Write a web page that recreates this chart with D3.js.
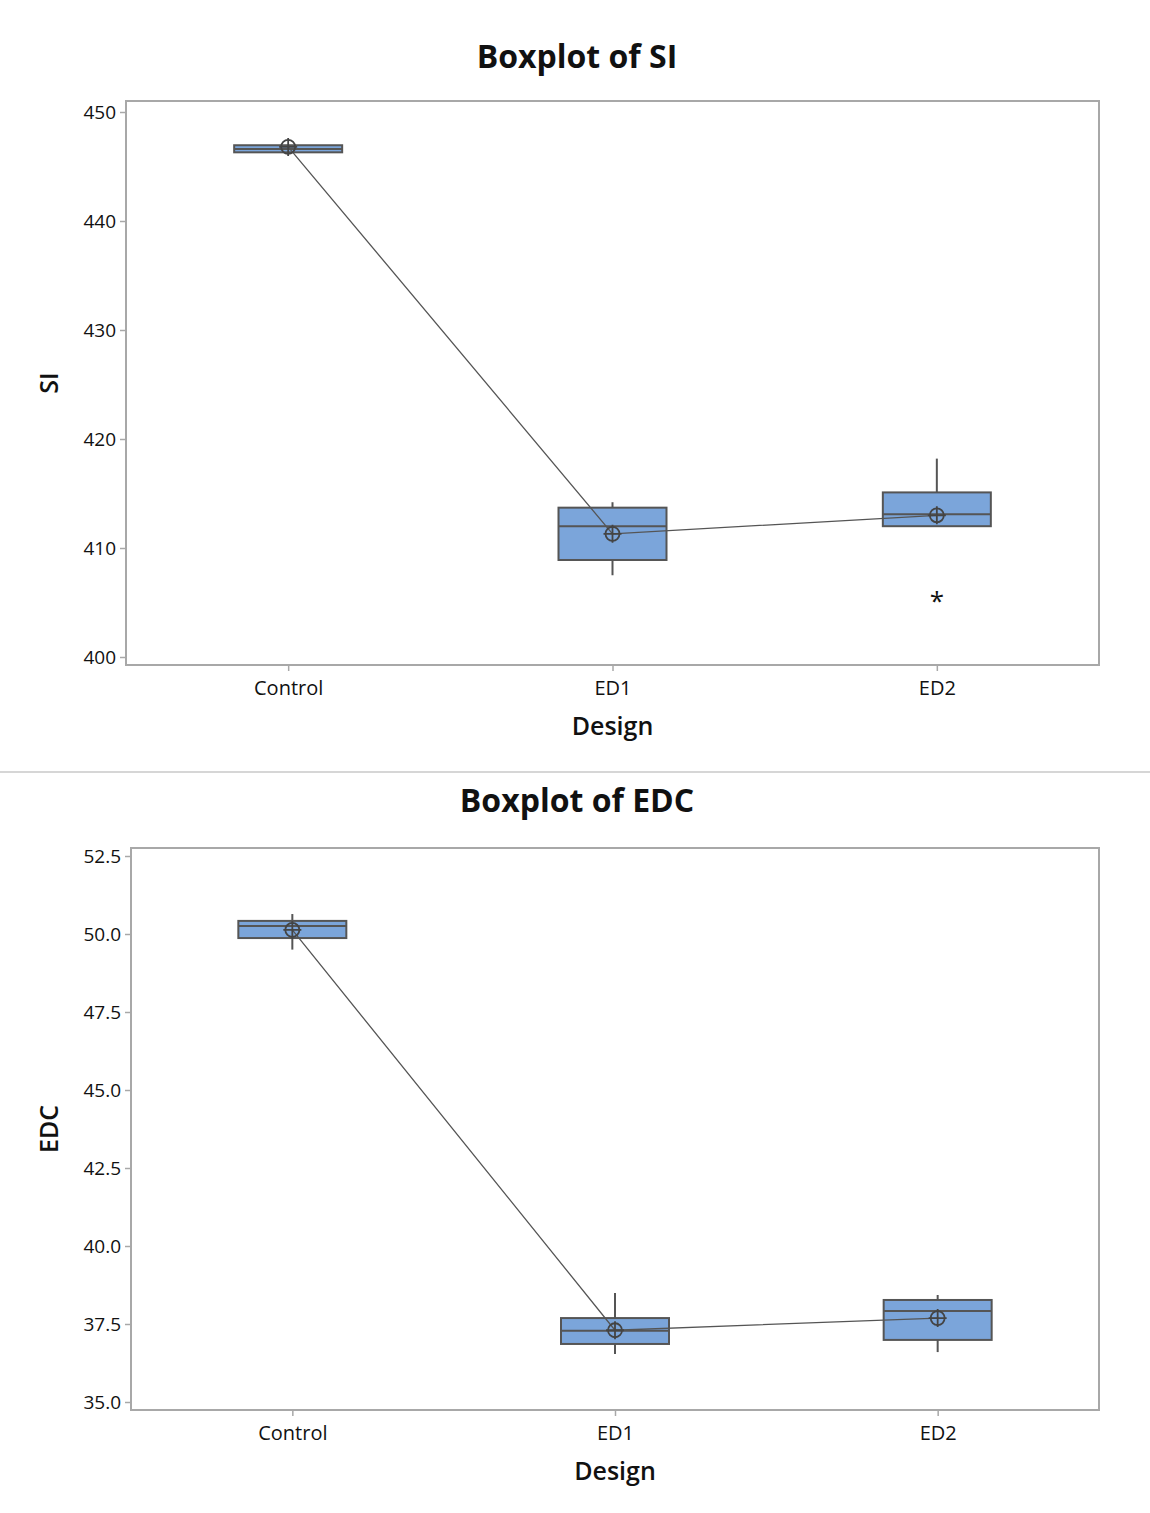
<!DOCTYPE html>
<html>
<head>
<meta charset="utf-8">
<script src="https://cdn.jsdelivr.net/npm/d3@7"></script>
<style>
  body { margin: 0; background: #fff; }
  svg { display: block; }
  text { font-family: "Open Sans", "Noto Sans", sans-serif; fill: #111; }
</style>
</head>
<body>
<svg id="chart" width="1150" height="1513"></svg>
<script>
// Design groups shared by both boxplots
const categories = ["Control", "ED1", "ED2"];

// SI summary per group: [whiskerLow, Q1, median, Q3, whiskerHigh]
const siStats = [
  [446.3, 446.3, 446.6, 446.95, 446.95],
  [407.5, 408.9, 412.0, 413.7, 414.2],
  [412.0, 412.0, 413.1, 415.1, 418.2]
];
const siMeans = [446.8, 411.3, 413.0];
const siOutliers = [[2, 405.3]];
const siTicks = [400, 410, 420, 430, 440, 450];

// EDC summary per group
const edcStats = [
  [49.5, 49.87, 50.26, 50.42, 50.64],
  [36.54, 36.86, 37.28, 37.69, 38.49],
  [36.6, 36.99, 37.92, 38.27, 38.43]
];
const edcMeans = [50.13, 37.3, 37.69];
const edcOutliers = [];
const edcTicks = [35.0, 37.5, 40.0, 42.5, 45.0, 47.5, 50.0, 52.5];

const svg = d3.select("#chart");

function drawPanel(opt) {
  const g = svg.append("g");
  const x = d3.scalePoint().domain(categories).range([opt.left, opt.right]).padding(0.5);
  const y = d3.scaleLinear().domain(opt.domain).range([opt.y0, opt.y1]);

  // title
  g.append("text").attr("x", opt.titleX).attr("y", opt.titleY)
    .attr("text-anchor", "middle").attr("font-size", 32).attr("font-weight", 700)
    .text(opt.title);

  // frame
  g.append("rect").attr("x", opt.left).attr("y", opt.top)
    .attr("width", opt.right - opt.left).attr("height", opt.bottom - opt.top)
    .attr("fill", "none").attr("stroke", "#a8a8a8").attr("stroke-width", 2);

  // y axis
  const ya = g.append("g").attr("transform", `translate(${opt.left},0)`)
    .call(d3.axisLeft(y).tickValues(opt.ticks).tickSize(6).tickPadding(4)
      .tickFormat(opt.fmt));
  ya.select(".domain").remove();
  ya.selectAll("line").attr("stroke", "#a8a8a8").attr("stroke-width", 1.5);
  ya.selectAll("text").attr("font-size", 19).attr("fill", "#000")
    .attr("font-family", '"Open Sans", sans-serif');

  // x axis
  const xa = g.append("g").attr("transform", `translate(0,${opt.bottom})`)
    .call(d3.axisBottom(x).tickSize(6).tickPadding(10));
  xa.select(".domain").remove();
  xa.selectAll("line").attr("stroke", "#a8a8a8").attr("stroke-width", 1.5);
  xa.selectAll("text").attr("font-size", 20).attr("fill", "#000")
    .attr("font-family", '"Open Sans", sans-serif');

  // axis titles
  g.append("text").attr("x", (opt.left + opt.right) / 2).attr("y", opt.bottom + 70)
    .attr("text-anchor", "middle").attr("font-size", 25).attr("font-weight", 600)
    .text("Design");
  g.append("text")
    .attr("transform", `translate(${opt.yLabelX},${(opt.top + opt.bottom) / 2}) rotate(-90)`)
    .attr("text-anchor", "middle").attr("font-size", 25).attr("font-weight", 600)
    .text(opt.yLabel);

  const bw = 108;
  const col = "#555";
  const boxes = g.append("g").selectAll("g").data(opt.stats).join("g")
    .attr("transform", (d, i) => `translate(${x(categories[i])},0)`);
  // whiskers
  boxes.append("line").attr("x1", 0).attr("x2", 0)
    .attr("y1", d => y(d[4])).attr("y2", d => y(d[3]))
    .attr("stroke", col).attr("stroke-width", 2);
  boxes.append("line").attr("x1", 0).attr("x2", 0)
    .attr("y1", d => y(d[1])).attr("y2", d => y(d[0]))
    .attr("stroke", col).attr("stroke-width", 2);
  // box
  boxes.append("rect").attr("x", -bw / 2).attr("width", bw)
    .attr("y", d => y(d[3])).attr("height", d => Math.max(1, y(d[1]) - y(d[3])))
    .attr("fill", "#7ba5da").attr("stroke", col).attr("stroke-width", 2);
  // median
  boxes.append("line").attr("x1", -bw / 2).attr("x2", bw / 2)
    .attr("y1", d => y(d[2])).attr("y2", d => y(d[2]))
    .attr("stroke", col).attr("stroke-width", 2);

  // mean connect line
  const line = d3.line().x((d, i) => x(categories[i])).y(d => y(d));
  g.append("path").datum(opt.means).attr("d", line)
    .attr("fill", "none").attr("stroke", "#555").attr("stroke-width", 1.3);

  // mean symbols: circle with cross
  const ms = g.append("g").selectAll("g").data(opt.means).join("g")
    .attr("transform", (d, i) => `translate(${x(categories[i])},${y(d)})`);
  ms.append("circle").attr("r", 7).attr("fill", "none")
    .attr("stroke", "#444").attr("stroke-width", 1.8);
  ms.append("path").attr("d", "M-9,0H9M0,-9V9")
    .attr("stroke", "#444").attr("stroke-width", 1.8);

  // outliers
  g.append("g").selectAll("text").data(opt.outliers).join("text")
    .attr("x", d => x(categories[d[0]])).attr("y", d => y(d[1]) + 11)
    .attr("text-anchor", "middle").attr("font-size", 26).attr("fill", "#444")
    .text("*");
}

drawPanel({
  title: "Boxplot of SI", titleX: 577, titleY: 68,
  left: 126, right: 1099, top: 101, bottom: 665,
  domain: [400, 450], y0: 657, y1: 112,
  ticks: siTicks, fmt: d3.format("d"),
  stats: siStats, means: siMeans, outliers: siOutliers,
  yLabel: "SI", yLabelX: 58
});

// divider between the two plots
svg.append("line").attr("x1", 0).attr("x2", 1150).attr("y1", 772).attr("y2", 772)
  .attr("stroke", "#c8c8c8").attr("stroke-width", 1.5);

drawPanel({
  title: "Boxplot of EDC", titleX: 577, titleY: 812,
  left: 131, right: 1099, top: 848, bottom: 1410,
  domain: [35, 52.5], y0: 1402, y1: 856,
  ticks: edcTicks, fmt: d3.format(".1f"),
  stats: edcStats, means: edcMeans, outliers: edcOutliers,
  yLabel: "EDC", yLabelX: 58
});
</script>
</body>
</html>
